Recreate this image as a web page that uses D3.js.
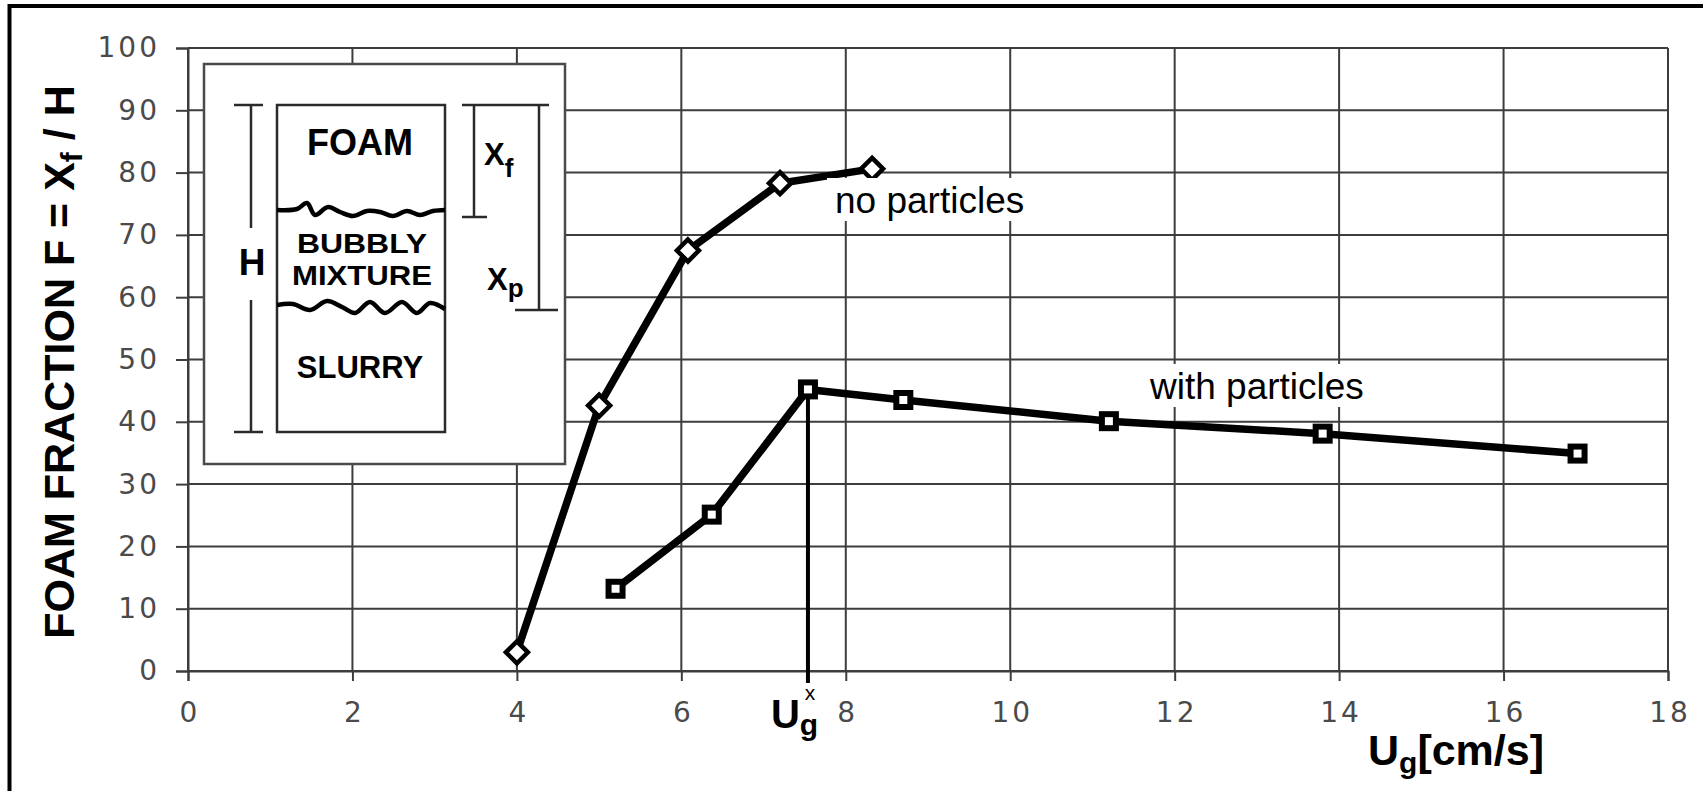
<!DOCTYPE html>
<html>
<head>
<meta charset="utf-8">
<script src="https://cdn.jsdelivr.net/npm/d3@7"></script>
<style>
  body { margin: 0; background: #fff; }
  svg { display: block; }
</style>
</head>
<body>
<div id="chart"></div>
<script>
// data
const noPartX = [4.0, 5.0, 6.08, 7.2, 8.32]
const noPartY = [3.0, 42.6, 67.5, 78.3, 80.6]
const withPartX = [5.2, 6.37, 7.54, 8.7, 11.2, 13.8, 16.9]
const withPartY = [13.2, 25.1, 45.2, 43.5, 40.1, 38.1, 34.9]
const xTicks = [0, 2, 4, 6, 8, 10, 12, 14, 16, 18]
const yTicks = [0, 10, 20, 30, 40, 50, 60, 70, 80, 90, 100]
const ugCritical = 7.54

const width = 1707, height = 791
const margin = { top: 48, right: 39, bottom: 120, left: 188 }
const gridColor = "#3d3d3d"
const tickFont = "'DejaVu Sans', sans-serif"
const boldFont = "'Liberation Sans', Arial, sans-serif"

const x = d3.scaleLinear()
    .domain([0, 18])
    .range([margin.left, width - margin.right])

const y = d3.scaleLinear()
    .domain([0, 100])
    .range([height - margin.bottom, margin.top])

const svg = d3.select("#chart")
    .append("svg")
    .attr("width", width)
    .attr("height", height)

// frame (only top and left edges show)
svg.append("line").attr("x1", 9.5).attr("x2", 9.5).attr("y1", 4).attr("y2", height)
    .attr("stroke", "#000").attr("stroke-width", 4)
svg.append("line").attr("x1", 8).attr("x2", 1703).attr("y1", 6).attr("y2", 6)
    .attr("stroke", "#000").attr("stroke-width", 4)

// grid
svg.append("g")
    .selectAll("line")
    .data(yTicks)
    .join("line")
    .attr("x1", x(0)).attr("x2", x(18))
    .attr("y1", d => y(d)).attr("y2", d => y(d))
    .attr("stroke", gridColor).attr("stroke-width", 2)

svg.append("g")
    .selectAll("line")
    .data(xTicks)
    .join("line")
    .attr("x1", d => x(d)).attr("x2", d => x(d))
    .attr("y1", y(0)).attr("y2", y(100))
    .attr("stroke", gridColor).attr("stroke-width", 2)

// axes
const yAxis = g => g
    .attr("transform", `translate(${margin.left},0)`)
    .call(d3.axisLeft(y).tickValues(yTicks).tickSize(12).tickPadding(16))
    .call(g => g.select(".domain").attr("stroke", gridColor).attr("stroke-width", 2))
    .call(g => g.selectAll(".tick line").attr("stroke", gridColor).attr("stroke-width", 2))
    .call(g => g.selectAll("text")
        .attr("fill", "#4a4a4a")
        .attr("font-family", tickFont)
        .attr("font-size", 28)
        .style("letter-spacing", "3px"))

const xAxis = g => g
    .attr("transform", `translate(0,${height - margin.bottom})`)
    .call(d3.axisBottom(x).tickValues(xTicks).tickSize(10).tickPadding(21))
    .call(g => g.select(".domain").attr("stroke", gridColor).attr("stroke-width", 2))
    .call(g => g.selectAll(".tick line").attr("stroke", gridColor).attr("stroke-width", 2))
    .call(g => g.selectAll("text")
        .attr("fill", "#4a4a4a")
        .attr("font-family", tickFont)
        .attr("font-size", 28)
        .attr("dx", 1.5)
        .style("letter-spacing", "3px"))

svg.append("g").call(yAxis)
svg.append("g").call(xAxis)

// inset diagram
const inset = svg.append("g").attr("transform", "translate(204,64)")
const ink = "#2a2a2a"

inset.append("rect")
    .attr("x", 0).attr("y", 0).attr("width", 361).attr("height", 400)
    .attr("fill", "#fff").attr("stroke", "#4a4a4a").attr("stroke-width", 2.5)

inset.append("rect")
    .attr("x", 73).attr("y", 41).attr("width", 168).attr("height", 327)
    .attr("fill", "#fff").attr("stroke", ink).attr("stroke-width", 2.5)

const seg = (x1, y1, x2, y2) => inset.append("line")
    .attr("x1", x1).attr("y1", y1).attr("x2", x2).attr("y2", y2)
    .attr("stroke", ink).attr("stroke-width", 2.5)

// H bracket
seg(47, 41, 47, 164)
seg(47, 236, 47, 368)
seg(30, 41, 59, 41)
seg(30, 368, 59, 368)
// Xf and Xp brackets
seg(258, 41, 345, 41)
seg(270, 41, 270, 153)
seg(258, 153, 283, 153)
seg(335, 41, 335, 246)
seg(311, 246, 354, 246)

const wave = d3.line().curve(d3.curveCatmullRom)
const wave1 = [[73, 146], [93, 145], [103, 139], [111, 151], [124, 143], [136, 148], [149, 152],
    [163, 147], [176, 148], [189, 152], [203, 147], [216, 151], [229, 147], [241, 146]]
const wave2 = [[73, 241], [89, 240], [106, 246], [123, 237], [138, 243], [151, 249], [166, 238],
    [181, 249], [198, 238], [213, 249], [226, 239], [241, 245]]
inset.append("path").attr("d", wave(wave1))
    .attr("fill", "none").attr("stroke", "#000").attr("stroke-width", 4.5)
inset.append("path").attr("d", wave(wave2))
    .attr("fill", "none").attr("stroke", "#000").attr("stroke-width", 4.5)

const label = (txt, cx, by, size, len) => {
    const t = inset.append("text")
        .attr("x", cx).attr("y", by)
        .attr("text-anchor", "middle")
        .attr("font-family", boldFont).attr("font-weight", "bold")
        .attr("font-size", size)
        .text(txt)
    if (len) t.attr("textLength", len).attr("lengthAdjust", "spacingAndGlyphs")
    return t
}

label("FOAM", 156, 91, 36)
label("BUBBLY", 158, 189, 28, 130)
label("MIXTURE", 158, 221, 28, 140)
label("SLURRY", 156, 314, 31)
label("H", 48, 211, 37)

const sub = (main, s, x0, by, dy) => {
    const t = inset.append("text")
        .attr("x", x0).attr("y", by)
        .attr("font-family", boldFont).attr("font-weight", "bold")
        .attr("font-size", 31)
    t.append("tspan").text(main)
    t.append("tspan").attr("dy", dy).attr("font-size", 26).text(s)
}
sub("X", "f", 280, 101, 12)
sub("X", "p", 283, 226, 7)

// series
const line = d3.line()
    .x(d => x(d[0]))
    .y(d => y(d[1]))

const noPart = d3.zip(noPartX, noPartY)
const withPart = d3.zip(withPartX, withPartY)

// critical gas velocity marker
svg.append("line")
    .attr("x1", x(ugCritical)).attr("x2", x(ugCritical))
    .attr("y1", y(withPartY[2])).attr("y2", y(0) + 12)
    .attr("stroke", "#000").attr("stroke-width", 4)

svg.append("path")
    .datum(noPart)
    .attr("d", line)
    .attr("fill", "none").attr("stroke", "#000").attr("stroke-width", 7.5)
    .attr("stroke-linejoin", "round")

svg.append("path")
    .datum(withPart)
    .attr("d", line)
    .attr("fill", "none").attr("stroke", "#000").attr("stroke-width", 7.5)
    .attr("stroke-linejoin", "round")

svg.append("g")
    .selectAll("path")
    .data(noPart)
    .join("path")
    .attr("transform", d => `translate(${x(d[0])},${y(d[1])})`)
    .attr("d", "M0,-11L11,0L0,11L-11,0Z")
    .attr("fill", "#fff").attr("stroke", "#000").attr("stroke-width", 4.5)

svg.append("g")
    .selectAll("rect")
    .data(withPart)
    .join("rect")
    .attr("x", d => x(d[0]) - 7)
    .attr("y", d => y(d[1]) - 7)
    .attr("width", 14).attr("height", 14)
    .attr("fill", "#fff").attr("stroke", "#000").attr("stroke-width", 6)

// series labels with white boxes
const seriesLabel = (txt, x0, by) => {
    const g = svg.append("g")
    const t = g.append("text")
        .attr("x", x0).attr("y", by)
        .attr("font-family", boldFont)
        .attr("font-size", 37)
        .text(txt)
    const b = t.node().getBBox()
    g.insert("rect", "text")
        .attr("x", b.x - 8).attr("y", b.y - 2)
        .attr("width", b.width + 16).attr("height", b.height + 2)
        .attr("fill", "#fff")
}
seriesLabel("no particles", 835, 213)
seriesLabel("with particles", 1150, 399)

// Ug^x label under the axis
const ugx = svg.append("text")
    .attr("x", x(ugCritical) - 37).attr("y", 728)
    .attr("font-family", boldFont).attr("font-weight", "bold")
    .attr("font-size", 40)
ugx.append("tspan").text("U")
ugx.append("tspan").attr("dy", 7).attr("font-size", 30).text("g")
svg.append("text")
    .attr("x", x(ugCritical) + 2).attr("y", 700)
    .attr("text-anchor", "middle")
    .attr("font-family", boldFont)
    .attr("font-size", 21)
    .text("x")

// axis titles
const xt = svg.append("text")
    .attr("x", 1368).attr("y", 765)
    .attr("font-family", boldFont).attr("font-weight", "bold")
    .attr("font-size", 43)
xt.append("tspan").text("U")
xt.append("tspan").attr("dy", 8).attr("font-size", 30).text("g")
xt.append("tspan").attr("dy", -8).text("[cm/s]")

const yt = svg.append("text")
    .attr("transform", "translate(74,362) rotate(-90)")
    .attr("text-anchor", "middle")
    .attr("font-family", boldFont).attr("font-weight", "bold")
    .attr("font-size", 43)
yt.append("tspan").text("FOAM FRACTION F = X")
yt.append("tspan").attr("dy", 8).attr("font-size", 30).text("f")
yt.append("tspan").attr("dy", -8).text(" / H")
</script>
</body>
</html>
